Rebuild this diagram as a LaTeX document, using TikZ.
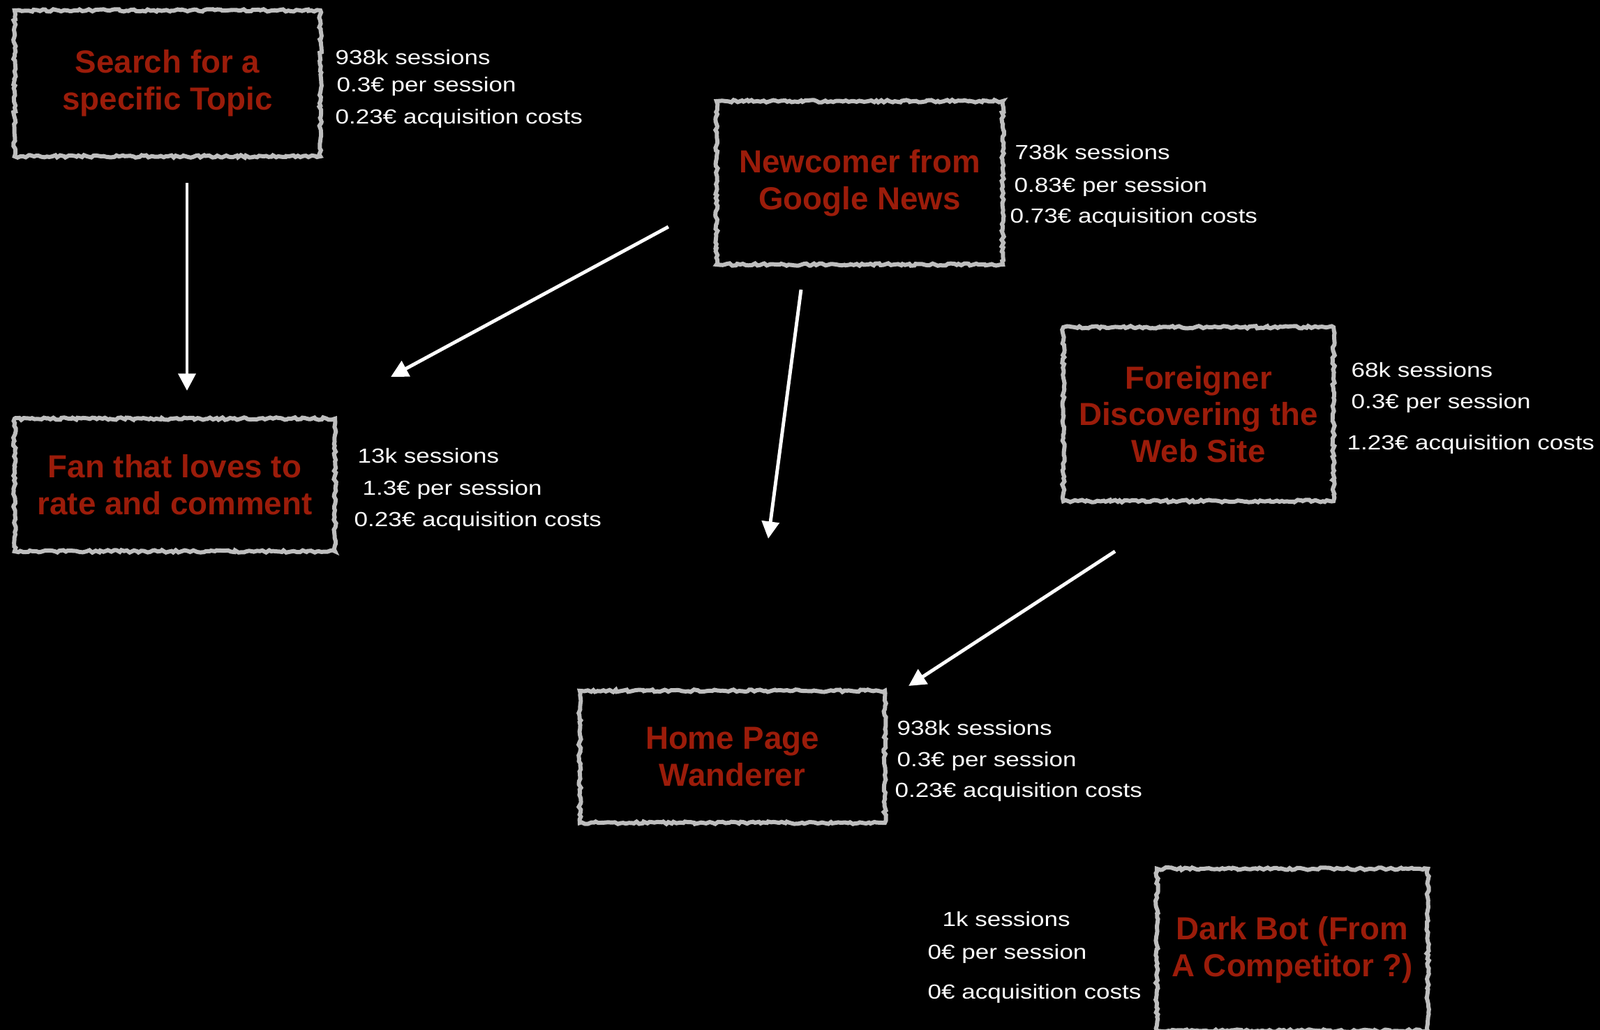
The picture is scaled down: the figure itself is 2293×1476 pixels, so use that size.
\documentclass[tikz,border=0pt]{standalone}
\usepackage{fontspec}
\setmainfont{Liberation Sans}
\newfontfamily\infofont[FakeStretch=1.2]{Liberation Sans}
\usepackage{tikz}
\usetikzlibrary{arrows.meta,calc,decorations.pathmorphing}
\definecolor{chalk}{RGB}{190,190,190}
\definecolor{titlered}{RGB}{155,28,10}
\newcommand{\titlefont}{\fontsize{13}{15}\selectfont\bfseries}
\tikzset{
	box/.style={draw=chalk, fill=black, line width=1.7pt, decorate,
		decoration={random steps, segment length=1.1pt, amplitude=0.5pt},
		text=titlered, font=\titlefont, align=center, inner sep=0pt},
	info/.style={anchor=base west, inner sep=0pt, text=white, font=\infofont\fontsize{8.3}{10}\selectfont},
	flow/.style={-{Triangle[length=7pt,width=7pt]}, white, line width=1.4pt}
}

\begin{document}
\begin{tikzpicture}[x=0.01cm, y=-0.01cm]
	\fill[black] (0,0) rectangle (2293,1476);
	\useasboundingbox (0,0) rectangle (2293,1476);

	\node[box, minimum width=4.38cm, minimum height=2.09cm] (search) at (240,119.5) {Search for a\\specific Topic};
	\node[box, minimum width=4.10cm, minimum height=2.34cm] (news) at (1232,262) {Newcomer from\\Google News};
	\node[box, minimum width=3.87cm, minimum height=2.49cm] (foreign) at (1717.5,593.5) {Foreigner\\Discovering the\\Web Site};
	\node[box, minimum width=4.59cm, minimum height=1.90cm] (fan) at (250.5,695) {Fan that loves to\\rate and comment};
	\node[box, minimum width=4.37cm, minimum height=1.89cm] (home) at (1049.5,1084.5) {Home Page\\Wanderer};
	\node[box, minimum width=3.88cm, minimum height=2.32cm] (bot) at (1852,1361) {Dark Bot (From\\A Competitor ?)};

	\node[info] (searchSess) at (480,93) {938k sessions};
	\node[info] (searchPer) at (482,132) {0.3€ per session};
	\node[info] (searchCost) at (480,178) {0.23€ acquisition costs};

	\node[info] (newsSess) at (1454,229) {738k sessions};
	\node[info] (newsPer) at (1453,275) {0.83€ per session};
	\node[info] (newsCost) at (1447,320) {0.73€ acquisition costs};

	\node[info] (foreignSess) at (1936,540) {68k sessions};
	\node[info] (foreignPer) at (1936,585) {0.3€ per session};
	\node[info] (foreignCost) at (1930,644) {1.23€ acquisition costs};

	\node[info] (fanSess) at (512,663) {13k sessions};
	\node[info] (fanPer) at (519,709) {1.3€ per session};
	\node[info] (fanCost) at (507,754) {0.23€ acquisition costs};

	\node[info] (homeSess) at (1285,1053) {938k sessions};
	\node[info] (homePer) at (1285,1098) {0.3€ per session};
	\node[info] (homeCost) at (1282,1142) {0.23€ acquisition costs};

	\node[info] (botSess) at (1350,1327) {1k sessions};
	\node[info] (botPer) at (1329,1374) {0€ per session};
	\node[info] (botCost) at (1329,1431) {0€ acquisition costs};

	\draw[flow] ($(search.south)+(28,35)$) -- ($(fan.north)+(17.5,-37)$);
	\draw[flow] ($(news.west)+(-66,63)$) -- ($(fan.north east)+(77,-57)$);
	\draw[flow] ($(news.south)+(-84,33)$) -- ($(home.north)+(51.5,-215)$);
	\draw[flow] ($(foreign.south)+(-119.5,69)$) -- ($(home.north east)+(31,-4)$);
\end{tikzpicture}
\end{document}
